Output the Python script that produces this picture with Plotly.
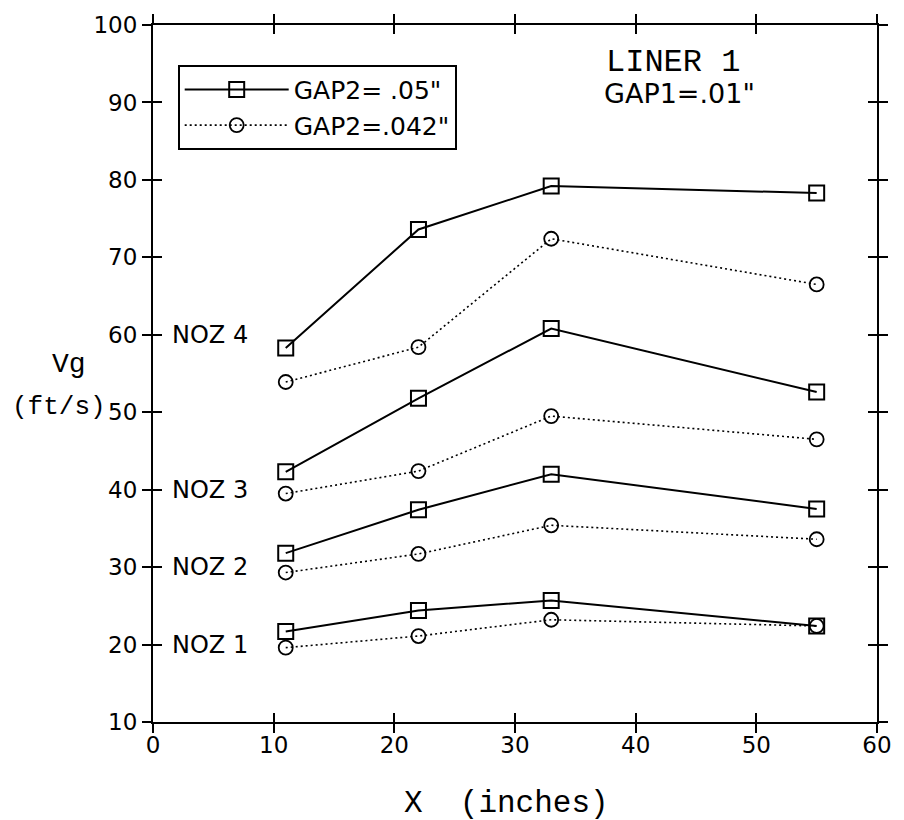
import plotly.graph_objects as go

# ---- data ----
x_inches = [11, 22, 33, 55]

noz1_gap05 = [21.7, 24.4, 25.7, 22.4]
noz2_gap05 = [31.8, 37.4, 42.0, 37.5]
noz3_gap05 = [42.3, 51.8, 60.8, 52.6]
noz4_gap05 = [58.3, 73.6, 79.2, 78.3]

noz1_gap042 = [19.6, 21.1, 23.2, 22.4]
noz2_gap042 = [29.3, 31.7, 35.4, 33.6]
noz3_gap042 = [39.5, 42.4, 49.5, 46.5]
noz4_gap042 = [53.9, 58.4, 72.4, 66.5]

nozzle_labels = ["NOZ 1", "NOZ 2", "NOZ 3", "NOZ 4"]
nozzle_label_y = [20, 30, 40, 60]

x_ticks = [0, 10, 20, 30, 40, 50, 60]
y_ticks = [10, 20, 30, 40, 50, 60, 70, 80, 90, 100]

# ---- layout constants ----
W, H = 904, 820
ML, MR, MT, MB = 153, 18, 22, 98
PW, PH = W - ML - MR, H - MT - MB


def px2paper(px, py):
    return (px - ML) / PW, (H - MB - py) / PH


SANS = "DejaVu Sans"
THIN = "Liberation Mono"

fig = go.Figure()

gap05_sets = [noz1_gap05, noz2_gap05, noz3_gap05, noz4_gap05]
gap042_sets = [noz1_gap042, noz2_gap042, noz3_gap042, noz4_gap042]

for i, ys in enumerate(gap05_sets):
    fig.add_trace(go.Scatter(
        x=x_inches, y=ys, mode="lines+markers",
        name='GAP2= .05"', legendgroup="g05", showlegend=(i == 0),
        line=dict(color="black", width=2),
        marker=dict(symbol="square-open", size=15, color="black",
                    line=dict(width=2, color="black")),
    ))

for i, ys in enumerate(gap042_sets):
    fig.add_trace(go.Scatter(
        x=x_inches, y=ys, mode="lines+markers",
        name='GAP2=.042"', legendgroup="g042", showlegend=(i == 0),
        line=dict(color="black", width=1.6, dash="2px,3px"),
        marker=dict(symbol="circle-open", size=14, color="black",
                    line=dict(width=1.8, color="black")),
    ))

# invisible trace to activate the overlay axes (inside ticks)
fig.add_trace(go.Scatter(x=[x_ticks[0]], y=[y_ticks[0]], xaxis="x2", yaxis="y2",
                         mode="markers", marker=dict(opacity=0), showlegend=False,
                         hoverinfo="skip"))

axis_common = dict(showgrid=False, zeroline=False, linecolor="black",
                   tickcolor="black", ticklen=9, tickwidth=1.8)

fig.update_layout(
    width=W, height=H,
    margin=dict(l=ML, r=MR, t=MT, b=MB),
    paper_bgcolor="white", plot_bgcolor="white",
    font=dict(family=SANS, size=22, color="black"),
    xaxis=dict(range=[0, 60], tickvals=x_ticks, ticks="outside", mirror="ticks",
               showline=True, linewidth=2, ticklabelstandoff=-8,
               tickfont=dict(family=SANS, size=23), **axis_common),
    yaxis=dict(range=[10, 100], tickvals=y_ticks, ticks="outside", mirror="ticks",
               showline=True, linewidth=2,
               tickfont=dict(family=SANS, size=23), **axis_common),
    xaxis2=dict(range=[0, 60], tickvals=x_ticks, ticks="inside", mirror="ticks",
                overlaying="x", anchor="y2", showline=False, showticklabels=False,
                **axis_common),
    yaxis2=dict(range=[10, 100], tickvals=y_ticks, ticks="inside", mirror="ticks",
                overlaying="y", anchor="x2", showline=False, showticklabels=False,
                **axis_common),
    legend=dict(x=px2paper(178, 62)[0], y=px2paper(178, 62)[1],
                xanchor="left", yanchor="top",
                bordercolor="black", borderwidth=2, bgcolor="white",
                font=dict(family=SANS, size=25), itemwidth=104,
                tracegroupgap=0),
    showlegend=True,
)

annotations = []
for lab, yv in zip(nozzle_labels, nozzle_label_y):
    annotations.append(dict(x=1.4, y=yv, xref="x", yref="y", text=lab,
                            showarrow=False, xanchor="left", yanchor="middle",
                            font=dict(family=SANS, size=24)))

ax, ay = px2paper(610, 60)
annotations.append(dict(x=ax, y=ay, xref="paper", yref="paper", text="LINER 1",
                        showarrow=False, xanchor="left", yanchor="middle",
                        font=dict(family=THIN, size=32)))
ax, ay = px2paper(608, 91)
annotations.append(dict(x=ax, y=ay, xref="paper", yref="paper", text='GAP1=.01"',
                        showarrow=False, xanchor="left", yanchor="middle",
                        font=dict(family=SANS, size=27)))
ax, ay = px2paper(68, 363)
annotations.append(dict(x=ax, y=ay, xref="paper", yref="paper", text="Vg",
                        showarrow=False, xanchor="center", yanchor="middle",
                        font=dict(family=THIN, size=28)))
ax, ay = px2paper(58, 406)
annotations.append(dict(x=ax, y=ay, xref="paper", yref="paper", text="(ft/s)",
                        showarrow=False, xanchor="center", yanchor="middle",
                        font=dict(family=THIN, size=26)))
ax, ay = px2paper(511, 804)
annotations.append(dict(x=ax, y=ay, xref="paper", yref="paper", text="X  (inches)",
                        showarrow=False, xanchor="center", yanchor="middle",
                        font=dict(family=THIN, size=31)))

fig.update_layout(annotations=annotations)

fig.write_html("out.html")
